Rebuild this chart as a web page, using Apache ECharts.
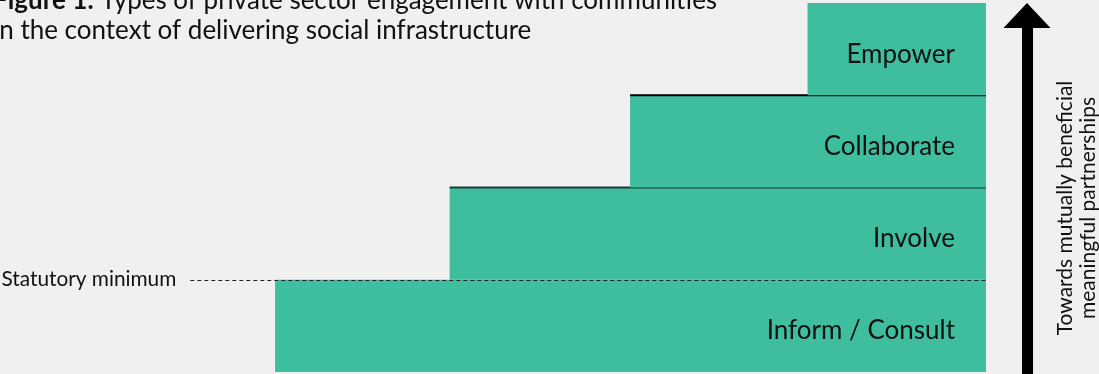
<!DOCTYPE html>
<html>
<head>
<meta charset="utf-8">
<script src="https://cdn.jsdelivr.net/npm/echarts@6/dist/echarts.min.js"></script>
<style>
html, body { margin: 0; padding: 0; background: #f0f0f0; }
#main { width: 1099px; height: 374px; }
</style>
</head>
<body>
<div id="main"></div>
<script>
// 台阶数据 (从下到上)
var stepNames = ['Inform / Consult', 'Involve', 'Collaborate', 'Empower'];
var stepLevels = [0, 1, 2, 3];
var stepStarts = [27.9, 45.6, 63.9, 81.9]; // 台阶左端, 0-100
var stepEnd = 100;
var statutoryLevel = 1;
var statutoryStart = 19.3;
var statutoryText = 'Statutory minimum';
var arrowText = 'Towards mutually beneficial\nmeaningful partnerships';
var titleBold = 'Figure 1:';
var titleRest = ' Types of private sector engagement with communities\nin the context of delivering social infrastructure';

var FONT = 'Lato';
var TEAL = '#3ebe9f';

var chart = echarts.init(document.getElementById('main'));

function renderStep(params, api) {
	var lvl = api.value(0);
	var start = api.value(1);
	var tl = api.coord([start, lvl + 1]);
	var br = api.coord([stepEnd, lvl]);
	var children = [{
		type: 'rect',
		shape: { x: tl[0], y: tl[1], width: br[0] - tl[0], height: br[1] - tl[1] },
		style: { fill: TEAL }
	}, {
		type: 'text',
		style: {
			text: stepNames[params.dataIndex],
			x: br[0] - 31,
			y: (tl[1] + br[1]) / 2 + 5,
			align: 'right',
			verticalAlign: 'middle',
			fontSize: 26,
			fontFamily: FONT,
			fill: '#111'
		}
	}];
	// 台阶上沿的线
	if (lvl === 1 || lvl === 2) {
		children.push({
			type: 'line',
			shape: { x1: tl[0], y1: tl[1], x2: br[0], y2: tl[1] },
			style: { stroke: lvl === 1 ? '#1d3a33' : '#000', lineWidth: 2 }
		});
	}
	return { type: 'group', children: children };
}

var option = {
	backgroundColor: '#f0f0f0',
	animation: false,
	title: {
		text: '{b|' + titleBold + '}' + titleRest,
		left: -7,
		top: -14,
		padding: 0,
		textStyle: {
			fontFamily: FONT,
			fontSize: 26,
			fontWeight: 'normal',
			color: '#111',
			lineHeight: 30,
			rich: {
				b: { fontFamily: FONT, fontSize: 26, fontWeight: 'bold', color: '#111', lineHeight: 30 }
			}
		}
	},
	// 右侧竖排说明文字
	graphic: [{
		type: 'text',
		x: 1077,
		y: 208,
		rotation: Math.PI / 2,
		silent: true,
		style: {
			text: arrowText,
			align: 'center',
			verticalAlign: 'middle',
			fontFamily: FONT,
			fontSize: 21,
			lineHeight: 23,
			fill: '#111'
		}
	}],
	grid: [
		{ left: 0, right: 113, top: 3, bottom: 2 },
		{ left: 1000, right: 72, top: 28, bottom: 0 }
	],
	xAxis: [
		{ gridIndex: 0, type: 'value', min: 0, max: 100, show: false },
		{ gridIndex: 1, type: 'value', min: 0, max: 1, show: false }
	],
	yAxis: [
		{ gridIndex: 0, type: 'value', min: 0, max: 4, show: false },
		{
			gridIndex: 1, type: 'value', min: 0, max: 1, position: 'right',
			axisLine: {
				show: true,
				onZero: false,
				symbol: ['none', 'triangle'],
				symbolSize: [47, 25],
				symbolOffset: [0, 12.5],
				lineStyle: { color: '#000', width: 11 }
			},
			axisTick: { show: false },
			axisLabel: { show: false },
			splitLine: { show: false }
		}
	],
	series: [{
		type: 'custom',
		xAxisIndex: 0,
		yAxisIndex: 0,
		renderItem: renderStep,
		encode: { x: 1, y: 0 },
		data: stepLevels.map(function (l, i) { return [l, stepStarts[i]]; }),
		silent: true,
		markLine: {
			silent: true,
			symbol: ['none', 'none'],
			lineStyle: { type: [4, 3], color: '#222', width: 1 },
			label: {
				show: true,
				position: 'start',
				distance: 14,
				formatter: statutoryText,
				fontFamily: FONT,
				fontSize: 20.8,
				color: '#111'
			},
			data: [[
				{ coord: [statutoryStart, statutoryLevel] },
				{ coord: [stepEnd, statutoryLevel] }
			]]
		}
	}]
};
chart.setOption(option);
</script>
</body>
</html>
